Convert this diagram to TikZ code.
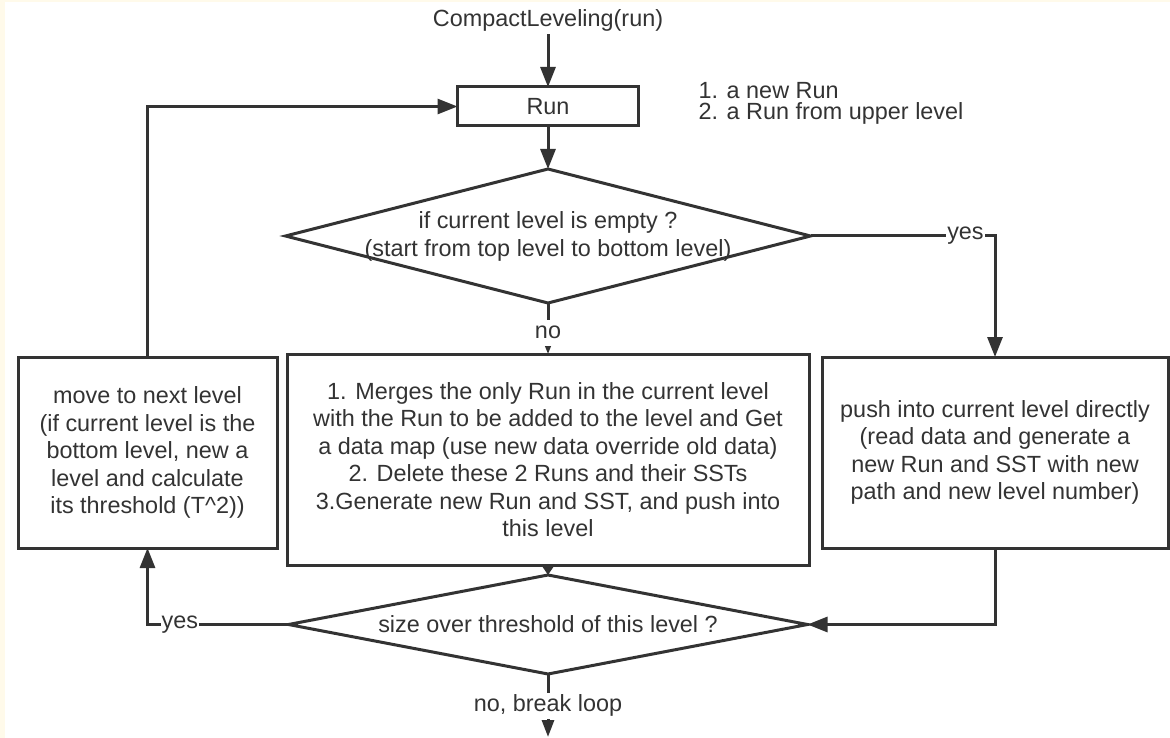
\documentclass[tikz,border=0pt]{standalone}
\usepackage{fontspec}
\setmainfont{Liberation Sans}
\usetikzlibrary{shapes.geometric,arrows.meta}
\definecolor{ink}{HTML}{333333}
\definecolor{cream}{HTML}{FFFAEA}
\tikzstyle{txt}=[text=ink,align=center,font=\fontsize{23.4}{27.5}\selectfont]
\tikzstyle{box}=[txt,draw=ink,line width=3pt,fill=white,inner sep=0pt,outer sep=0pt]
\tikzstyle{decision}=[diamond,draw=ink,line width=3pt,fill=white,inner sep=0pt,outer sep=0pt]
\tikzstyle{lbl}=[txt,fill=white,inner sep=1pt,minimum height=26pt]
\tikzstyle{arr}=[draw=ink,line width=3pt,-{Triangle[length=20pt,width=15pt]}]

\begin{document}
\begin{tikzpicture}[x=1pt,y=-1pt]
\fill[white] (0,0) rectangle (1170,738);
\fill[cream] (0,0) rectangle (5,738);
\fill[cream] (0,0) rectangle (1170,2);
\useasboundingbox (0,0) rectangle (1170,738);

\node[txt] (start) at (548,20) {CompactLeveling(run)};
\node[box,minimum width=181pt,minimum height=39pt] (run) at (548,106.5) {Run};
\node[txt,align=left,anchor=west,font=\fontsize{23.4}{21}\selectfont] (notes) at (695,103) {1. a new Run\\2. a Run from upper level};

\node[decision,minimum width=525pt,minimum height=134pt] (d1) at (548,236) {};
\node[txt] (d1t) at (548,236.5) {if current level is empty ?\\(start from top level to bottom level)};

\node[box,minimum width=259pt,minimum height=191pt] (next) at (147.5,452.5) {move to next level\\(if current level is the\\bottom level, new a\\level and calculate\\its threshold (T\^{}2))};
\node[box,minimum width=522pt,minimum height=211pt] (merge) at (548,459.5) {1. Merges the only Run in the current level\\with the Run to be added to the level and Get\\a data map (use new data override old data)\\2. Delete these 2 Runs and their SSTs\\3.Generate new Run and SST, and push into\\this level};
\node[box,minimum width=346pt,minimum height=191pt] (push) at (995,452.5) {push into current level directly\\(read data and generate a\\new Run and SST with new\\path and new level number)};

\node[decision,minimum width=519pt,minimum height=99pt] (d2) at (548,624.5) {};
\node[txt] (d2t) at (548,624.5) {size over threshold of this level ?};
\coordinate (out) at (548,737);

\draw[arr] (start) -- (run);
\draw[arr] (run) -- (d1);
\draw[arr] (d1.south) -- node[lbl,pos=0.58]{no} (merge.north);
\draw[arr] (d1.east) -| node[lbl,pos=0.42]{yes} (push.north);
\draw[arr,-{Triangle[length=11pt,width=14pt]}] (merge) -- (d2);
\draw[arr] (push.south) |- (d2.east);
\draw[arr] (d2.west) -| node[lbl,pos=0.385]{yes} (next.south);
\draw[arr] (next.north) |- (run.west);
\draw[arr,-{Triangle[length=17pt,width=12pt]}] (d2.south) -- node[lbl,pos=0.5]{no, break loop} (out);
\end{tikzpicture}
\end{document}
